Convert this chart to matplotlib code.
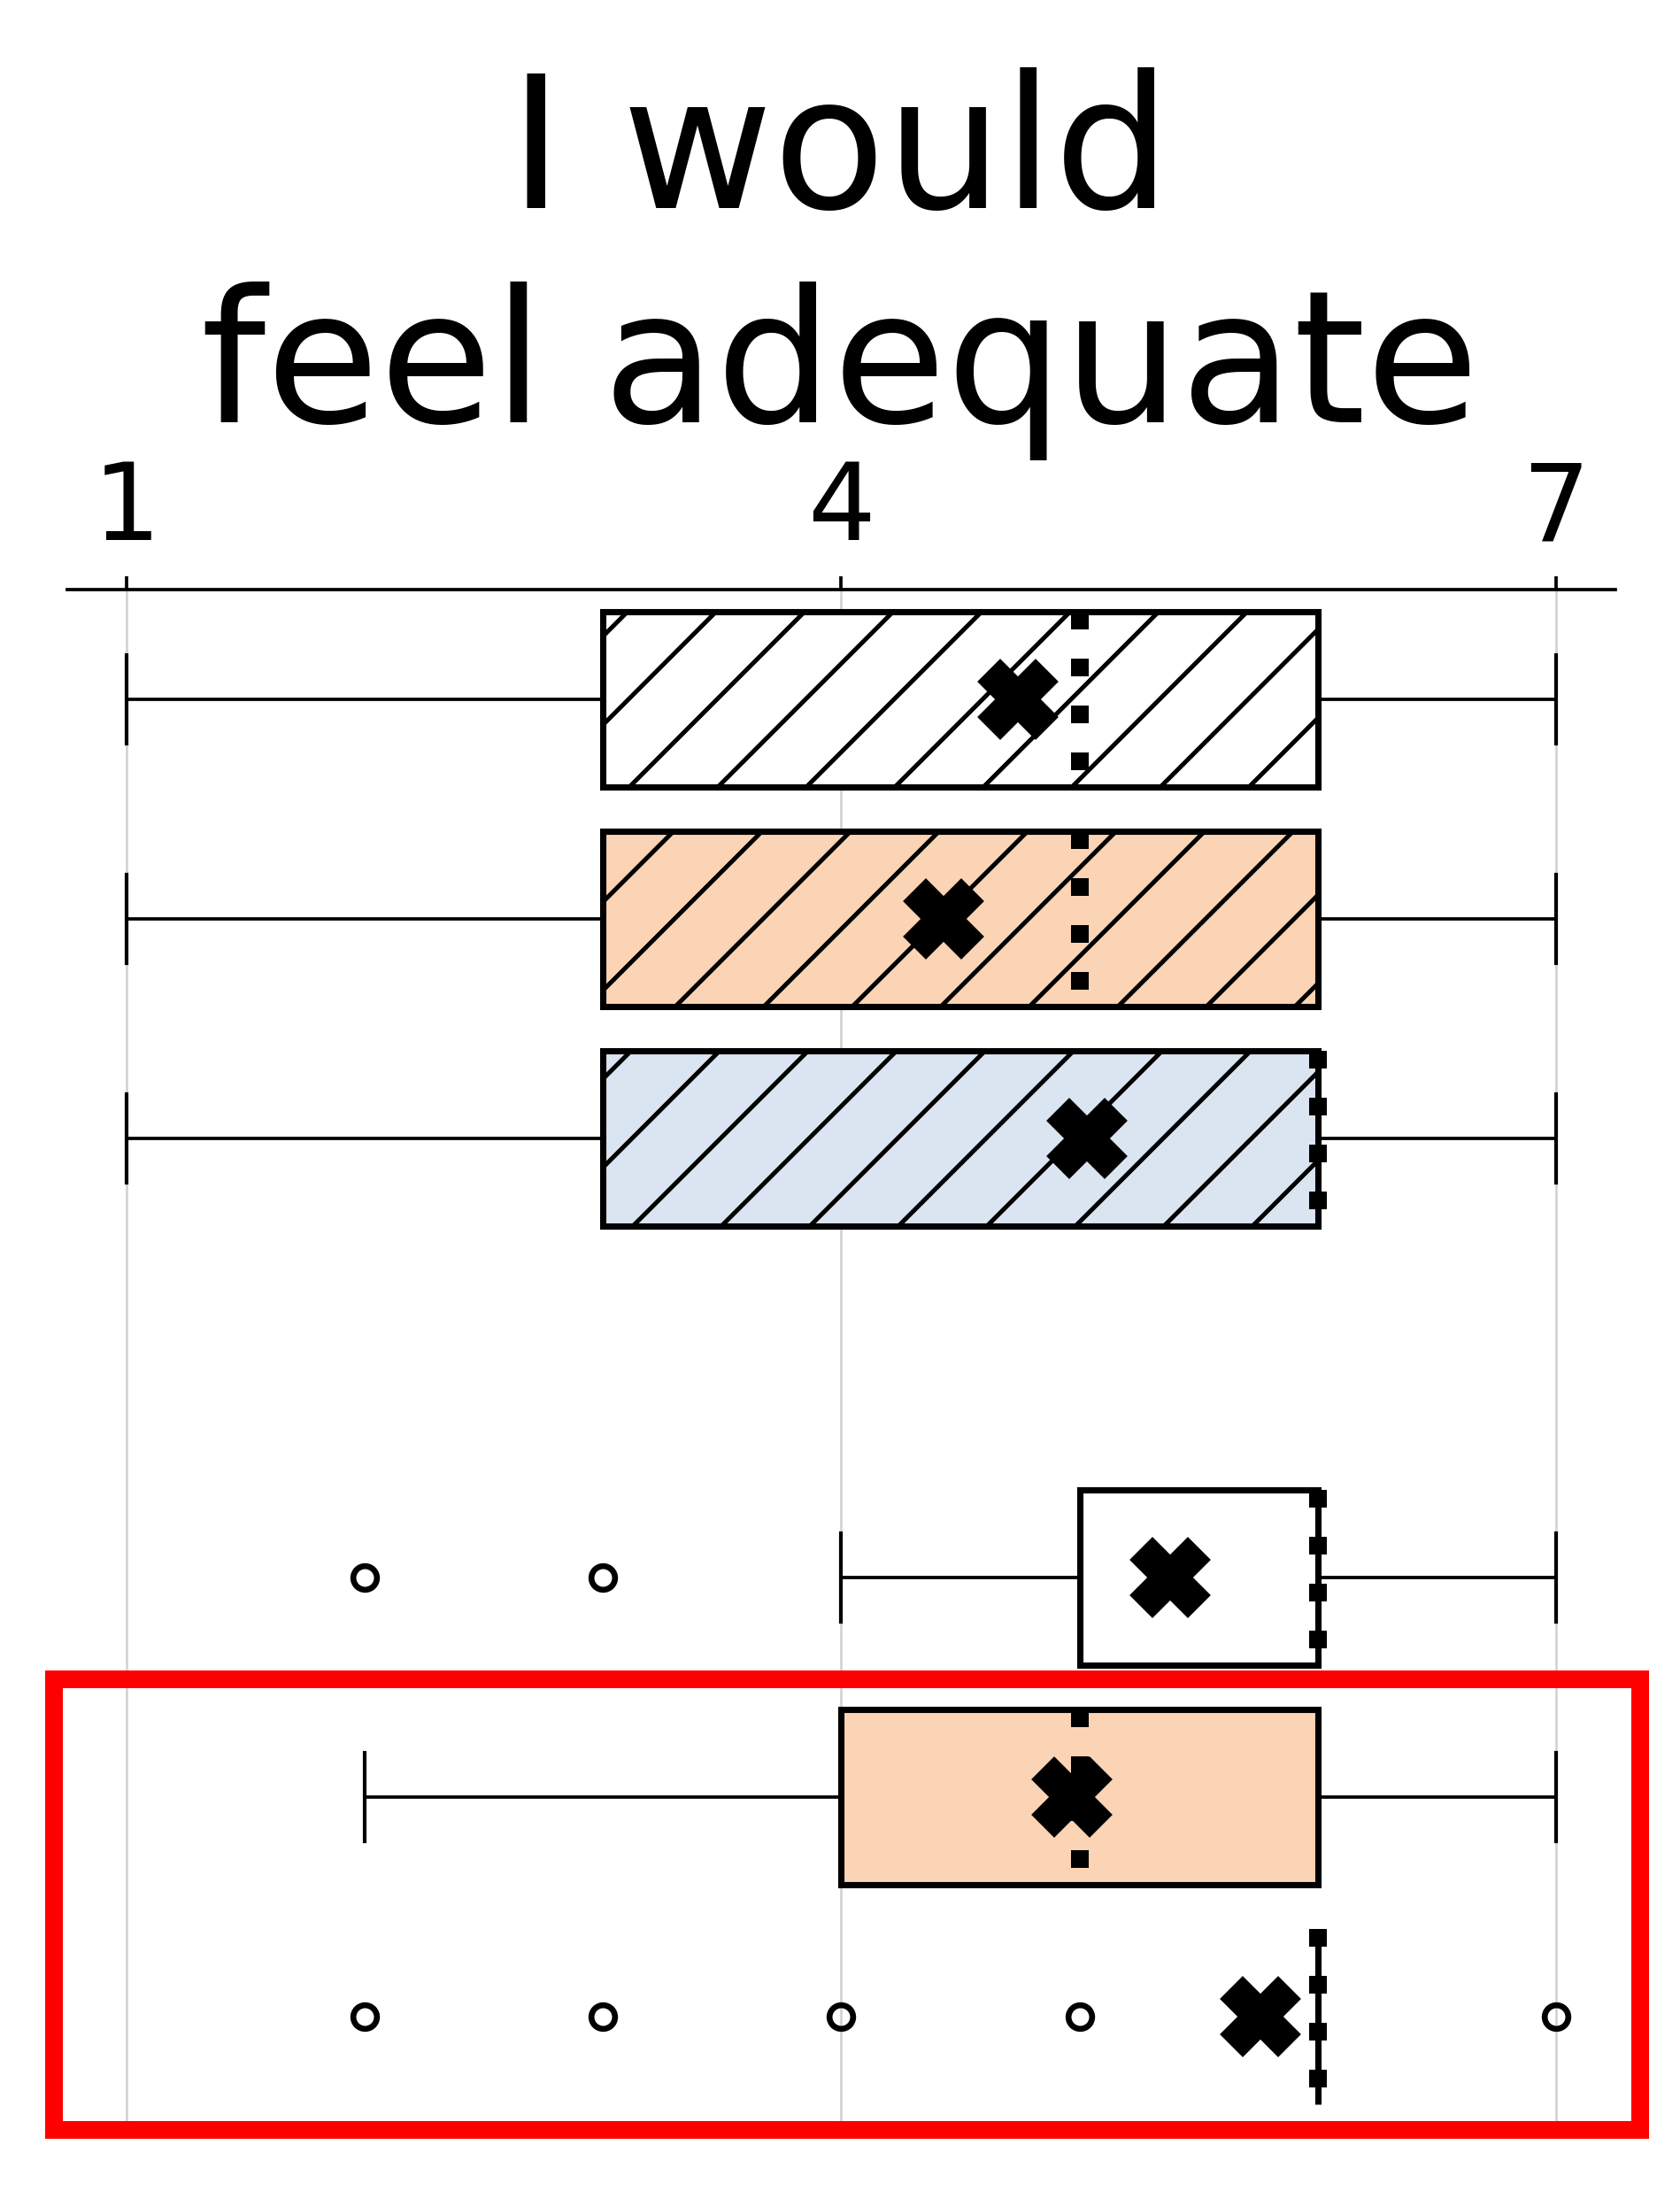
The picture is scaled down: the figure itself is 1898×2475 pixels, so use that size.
import matplotlib
matplotlib.use("Agg")
import matplotlib.pyplot as plt
from matplotlib.patches import Rectangle

# -------------------------------
# Box statistics (Likert 1-7)
# -------------------------------
positions = [1, 2, 3, 5, 6, 7]
q1 = [3, 3, 3, 5, 4, 6]
medians = [5, 5, 6, 6, 5, 6]
q3 = [6, 6, 6, 6, 6, 6]
whis_lo = [1, 1, 1, 4, 2, 6]
whis_hi = [7, 7, 7, 7, 7, 6]
means = [4.74, 4.43, 5.03, 5.38, 4.97, 5.76]
outliers = [[], [], [], [2, 3], [], [2, 3, 4, 5, 7]]

fill_colors = ['white', '#fad4b4', '#dbe5f1', 'white', '#fad4b4', '#dbe5f1']
hatches = ['//', '//', '//', '', '', '']

x_ticks = [1, 4, 7]
title = "I would\nfeel adequate"

stats = []
for i in range(len(positions)):
    stats.append({
        'q1': q1[i], 'med': medians[i], 'q3': q3[i],
        'whislo': whis_lo[i], 'whishi': whis_hi[i],
        'mean': means[i], 'fliers': outliers[i],
    })

plt.rcParams['hatch.linewidth'] = 0.6

fig = plt.figure(figsize=(1898 / 600, 2475 / 600), dpi=600)
ax = fig.add_axes([0.0400, 0.0295, 0.9215, 0.7014])

bp = ax.bxp(
    stats,
    positions=positions,
    widths=0.8,
    orientation='horizontal',
    patch_artist=True,
    showmeans=True,
    boxprops=dict(linewidth=0.85, edgecolor='black'),
    whiskerprops=dict(linewidth=0.45, color='black'),
    capprops=dict(linewidth=0.5, color='black'),
    medianprops=dict(linewidth=2.4, linestyle=':', color='black'),
    meanprops=dict(marker='X', markerfacecolor='black',
                   markeredgecolor='black', markersize=9.6),
    flierprops=dict(marker='o', markerfacecolor='none',
                    markeredgecolor='black', markersize=3.2,
                    markeredgewidth=0.8),
)

for patch, color, hatch in zip(bp['boxes'], fill_colors, hatches):
    patch.set_facecolor(color)
    patch.set_hatch(hatch)

for m in bp['means']:
    m.set_zorder(5)

ax.set_xlim(0.75, 7.25)
ax.set_ylim(7.5, 0.5)
ax.set_xticks(x_ticks)
ax.set_yticks([])

ax.xaxis.tick_top()
ax.tick_params(axis='x', labelsize=14.5, length=1.8, width=0.45, pad=1.9)

for side in ['left', 'right', 'bottom']:
    ax.spines[side].set_visible(False)
ax.spines['top'].set_linewidth(0.45)

ax.grid(axis='x', color='#d0d0d0', linewidth=0.3)
ax.set_axisbelow(True)

# Highlight frame around the last two rows
ax.add_patch(Rectangle((0.695, 5.464), 7.354 - 0.695, 7.516 - 5.464,
                       fill=False, edgecolor='red', linewidth=2.4,
                       clip_on=False, zorder=10))

fig.text(0.5, 0.9693, title, ha='center', va='top',
         fontsize=25, linespacing=1.25)

fig.savefig("out.png", dpi=600)
